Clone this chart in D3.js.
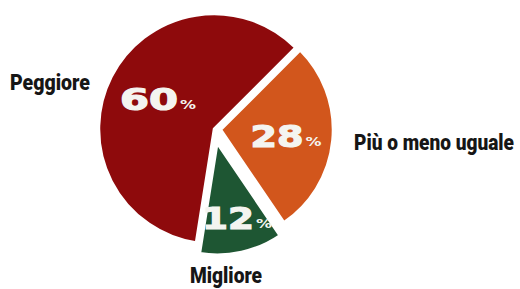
<!DOCTYPE html>
<meta charset="utf-8">
<style>
body { margin: 0; background: #fff; }
.cat { font: 900 22px Roboto, sans-serif; fill: #161616; }
.num { font: bold 30px "DejaVu Sans", sans-serif; fill: #f4f4f0; stroke: #f4f4f0; stroke-width: 1.2px; }
.pct { font: bold 12px "DejaVu Sans", sans-serif; fill: #f4f4f0; }
</style>
<svg width="520" height="289"></svg>
<script src="https://cdnjs.cloudflare.com/ajax/libs/d3/7.8.5/d3.min.js"></script>
<script>

// order matches drawing order, clockwise from upper right
var labels = ["Più o meno uguale", "Migliore", "Peggiore"];
var values = [28, 12, 60];
var colors = ["#d2561c", "#1e5633", "#8e0a0c"];

var svg = d3.select("svg"),
    cx = 214, cy = 129, r = 115;

var pie = d3.pie().sort(null)
    .startAngle(45 * Math.PI / 180)
    .endAngle(405 * Math.PI / 180);
var arcs = pie(values);
var arc = d3.arc().innerRadius(0);

// how far each slice is pulled out, and its radius
var explode = [7, 15, 0];
var radii = [112, 111, r];

var g = svg.append("g").attr("transform", "translate(" + cx + "," + cy + ")");

function off(d, i) {
  var a = (d.startAngle + d.endAngle) / 2;
  return [Math.sin(a) * explode[i], -Math.cos(a) * explode[i]];
}

g.selectAll("path")
  .data(arcs)
  .enter().append("path")
    .attr("transform", function(d, i) { var o = off(d, i); return "translate(" + o + ")"; })
    .attr("d", function(d, i) { return arc.outerRadius(radii[i])(d); })
    .attr("fill", function(d, i) { return colors[i]; })
    .attr("stroke", "#fff")
    .attr("stroke-width", 2.5)
    .attr("stroke-linejoin", "round");

// percentage labels (number big, % small)
var numPos = [[277, 147], [228, 229], [149, 110]];
var numW = [53, 52, 58];
numPos.forEach(function(p, i) {
  var t = svg.append("g");
  t.append("text").attr("class", "num")
    .attr("x", p[0]).attr("y", p[1])
    .attr("text-anchor", "middle")
    .attr("textLength", numW[i]).attr("lengthAdjust", "spacingAndGlyphs")
    .text(values[i]);
  t.append("text").attr("class", "pct")
    .attr("x", p[0] + numW[i] / 2 + 2).attr("y", p[1] - 1)
    .attr("textLength", 16).attr("lengthAdjust", "spacingAndGlyphs")
    .text("%");
});

// category labels, squeezed horizontally to look condensed
var catPos = [[354, 150, 160], [190, 283, 72], [10, 90, 80]];
catPos.forEach(function(p, i) {
  var t = svg.append("text").attr("class", "cat").text(labels[i]);
  var w = t.node().getComputedTextLength();
  t.attr("transform", "translate(" + p[0] + "," + p[1] + ") scale(" + (p[2] / w) + ",1)");
});

</script>
